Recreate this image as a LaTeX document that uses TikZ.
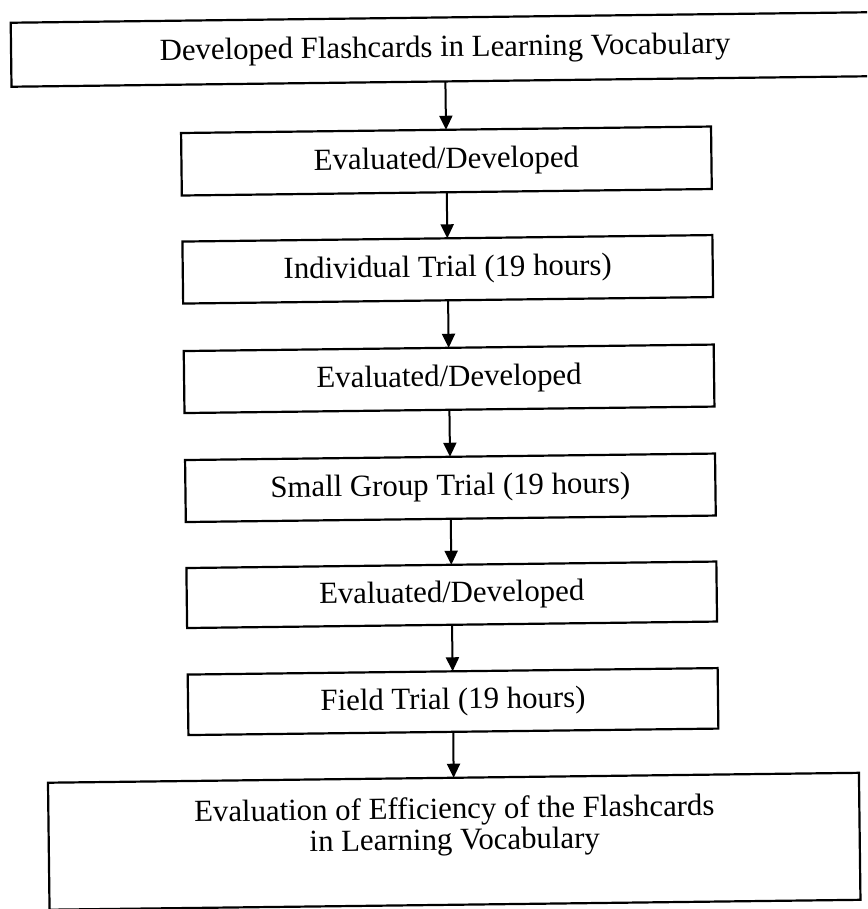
\documentclass[tikz,border=0pt]{standalone}
\usepackage{fontspec}
\setmainfont{Liberation Serif}
\usetikzlibrary{arrows.meta}
\begin{document}
\begin{tikzpicture}[x=1pt,y=-1pt,
  txtfont/.style={font=\fontsize{30.8}{30.6}\selectfont},
  box/.style={draw, line width=2.2pt, rectangle, inner sep=0pt, outer sep=0pt,
    minimum width=530pt, minimum height=62pt,
    text height=21pt, text depth=6pt, txtfont},
  arr/.style={line width=2pt, -{Triangle[length=14pt,width=13pt]}}]
\useasboundingbox (0,0) rectangle (867,909);
\clip (0,0) rectangle (867,909);
\begin{scope}[rotate around={0.7:(433,454)}, transform shape]
  \node[box, minimum width=868pt, minimum height=64pt] (top) at (450,49.6)
    {Developed Flashcards in Learning Vocabulary};
  \node[box, minimum height=62.5pt] (ev1) at (450,161.2) {Evaluated/Developed};
  \node[box] (ind) at (450,269.5) {Individual Trial (19 hours)};
  \node[box] (ev2) at (450,379) {Evaluated/Developed};
  \node[box] (small) at (450,488) {Small Group Trial (19 hours)};
  \node[box, minimum height=60pt] (ev3) at (450,595) {Evaluated/Developed};
  \node[box, minimum height=60.5pt] (field) at (450,701.8) {Field Trial (19 hours)};
  \node[box, minimum width=811pt, minimum height=127pt] (eval) at (449.5,841.5) {};
  \node[txtfont, anchor=base, inner sep=0pt] (evaltexta) at (450,819)
    {Evaluation of Efficiency of the Flashcards};
  \node[txtfont, anchor=base, inner sep=0pt, text height=18pt] (evaltextb) at (450,850)
    {in Learning Vocabulary};
  \draw[arr] (top) -- (ev1);
  \draw[arr] (ev1) -- (ind);
  \draw[arr] (ind) -- (ev2);
  \draw[arr] (ev2) -- (small);
  \draw[arr] (small) -- (ev3);
  \draw[arr] (ev3) -- (field);
  \draw[arr] (field) -- (eval);
\end{scope}
\end{tikzpicture}
\end{document}
